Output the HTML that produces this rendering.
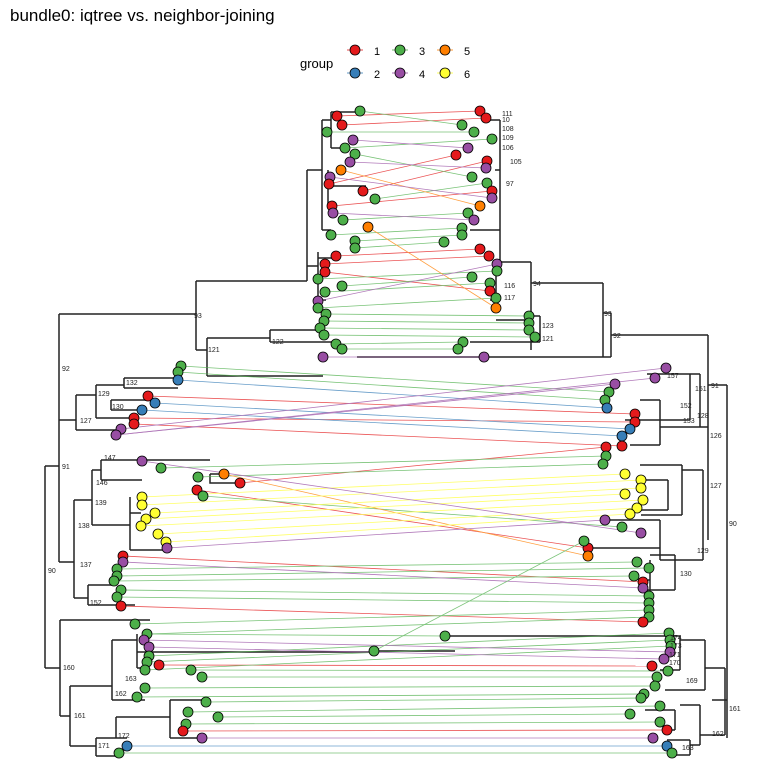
<!DOCTYPE html>
<html><head><meta charset="utf-8"><style>
body{margin:0;background:#fff}
svg{display:block;font-family:"Liberation Sans",sans-serif}
</style></head><body>
<svg id="s" width="768" height="768" viewBox="0 0 768 768" xmlns="http://www.w3.org/2000/svg">
<text x="10" y="21" font-size="17">bundle0: iqtree vs. neighbor-joining</text>
<text x="300" y="68" font-size="13">group</text>
<g font-size="11" stroke-width="0.8">
<line x1="347" y1="50" x2="363" y2="50" stroke="#e41a1c"/><circle cx="355" cy="50" r="5" fill="#e41a1c" stroke="#000"/><text x="374" y="55">1</text>
<line x1="392" y1="50" x2="408" y2="50" stroke="#4daf4a"/><circle cx="400" cy="50" r="5" fill="#4daf4a" stroke="#000"/><text x="419" y="55">3</text>
<line x1="437" y1="50" x2="453" y2="50" stroke="#ff7f00"/><circle cx="445" cy="50" r="5" fill="#ff7f00" stroke="#000"/><text x="464" y="55">5</text>
<line x1="347" y1="73" x2="363" y2="73" stroke="#377eb8"/><circle cx="355" cy="73" r="5" fill="#377eb8" stroke="#000"/><text x="374" y="78">2</text>
<line x1="392" y1="73" x2="408" y2="73" stroke="#984ea3"/><circle cx="400" cy="73" r="5" fill="#984ea3" stroke="#000"/><text x="419" y="78">4</text>
<line x1="437" y1="73" x2="453" y2="73" stroke="#ffff33"/><circle cx="445" cy="73" r="5" fill="#ffff33" stroke="#000"/><text x="464" y="78">6</text>
</g>
<g id="tree" fill="none" stroke="#222" stroke-width="1.5">
<path d="M45,466V668M45,466H59M45,668H60"/>
<path d="M59,314V562M59,314H196M59,562H74M59,420H76"/>
<path d="M196,281V350M196,281H307M196,350H207"/>
<path d="M207,338V376M207,338H270M207,376H323"/>
<path d="M270,330V342M270,330H318M270,342H338"/>
<path d="M307,170V281M307,170H322M307,266H318"/>
<path d="M322,120V230M322,120H331M322,230H331"/>
<path d="M331,112V148M331,112H360M331,148H345"/>
<path d="M328,170V206M328,206H336M328,186H366"/>
<path d="M318,252V310M318,258H337M318,300H326"/>
<path d="M76,395V430M76,395H96M76,430H121"/>
<path d="M96,385V418M96,385H124M96,418H134"/>
<path d="M124,378V388M124,378H181M124,388H178"/>
<path d="M111,400V410M111,400H148M111,410H142"/>
<path d="M74,500V598M74,500H92M74,598H88"/>
<path d="M92,470V525M92,470H101M92,525H130"/>
<path d="M101,460V480M101,460H210M101,480H142M210,474H224M210,474V483H240"/>
<path d="M130,497V550M130,550H167M130,513H141"/>
<path d="M88,585V605M88,585H114M88,605H135"/>
<path d="M60,620V716M60,620H150M60,716H70"/>
<path d="M70,686V746M70,686H112M70,746H96"/>
<path d="M112,640V700M112,640H137M112,700H145"/>
<path d="M137,634V668M137,652H374M137,668H145"/>
<path d="M96,738V756M96,738H116M96,756H119"/>
<path d="M116,717V738M116,717H170M116,738H127"/>
<path d="M170,700V738M170,700H206M170,738H202"/>
<path d="M727,385V738M708,385H727M712,700H727"/>
<path d="M708,335V540M611,335H708M700,427H708"/>
<path d="M611,313V357M603,313H611M357,357H611"/>
<path d="M603,283V357M531,283H603"/>
<path d="M531,262V350M498,262H531M496,320H531"/>
<path d="M500,120V260M487,120H500M495,170H500M470,230H500"/>
<path d="M496,264V310M490,300H496"/>
<path d="M540,316V342M540,316H529M540,342H470"/>
<path d="M700,374V427M690,374H700M660,427H700"/>
<path d="M690,374V420M647,374H690M625,420H690"/>
<path d="M660,400V445M640,400H660M630,445H660"/>
<path d="M703,470V560M682,470H703M660,560H703"/>
<path d="M682,465V515M640,465H682M641,515H682"/>
<path d="M668,480V510M645,480H668M630,510H668"/>
<path d="M660,520V560M610,520H660M588,548H660"/>
<path d="M675,555V590M650,555H675M640,590H675"/>
<path d="M650,560V620M648,580H650"/>
<path d="M725,668V735M705,668H725M700,735H725"/>
<path d="M705,640V690M680,640H705M665,690H705"/>
<path d="M680,636V670M668,636H680M660,670H680"/>
<path d="M700,705V745M680,705H700M690,745H700"/>
<path d="M675,710V730M645,710H675M667,730H675"/>
<path d="M690,740V755M667,740H690M672,755H690"/>
<path d="M373,651H455M445,636H670"/>
</g>
<g id="links" stroke-width="0.8" fill="none" opacity="0.75"></g>
<g id="dots" stroke="#000" stroke-width="0.8"></g>
<g font-size="7" fill="#222">
<text x="194" y="318">93</text><text x="208" y="352">121</text><text x="272" y="344">122</text><text x="62" y="371">92</text><text x="62" y="469">91</text><text x="48" y="573">90</text>
<text x="80" y="423">127</text><text x="98" y="396">129</text><text x="126" y="385">132</text><text x="112" y="409">130</text><text x="80" y="567">137</text><text x="78" y="528">138</text><text x="95" y="505">139</text><text x="96" y="485">146</text><text x="104" y="460">147</text><text x="90" y="605">152</text>
<text x="63" y="670">160</text><text x="74" y="718">161</text><text x="98" y="748">171</text><text x="118" y="738">172</text><text x="115" y="696">162</text><text x="125" y="681">163</text>
<text x="613" y="338">92</text><text x="604" y="316">93</text><text x="533" y="286">94</text><text x="711" y="388">91</text><text x="710" y="438">126</text><text x="710" y="488">127</text><text x="729" y="526">90</text><text x="729" y="711">161</text>
<text x="697" y="418">128</text><text x="697" y="553">129</text><text x="680" y="576">130</text><text x="542" y="328">123</text><text x="542" y="341">121</text><text x="695" y="391">151</text><text x="680" y="408">152</text><text x="683" y="423">153</text><text x="667" y="378">157</text>
<text x="686" y="683">169</text><text x="712" y="736">162</text><text x="669" y="657">171</text><text x="669" y="665">170</text><text x="670" y="640">174</text><text x="670" y="648">173</text><text x="682" y="750">163</text>
<text x="502" y="116">111</text><text x="502" y="122">10</text><text x="502" y="131">108</text><text x="502" y="140">109</text><text x="502" y="150">106</text><text x="510" y="164">105</text><text x="506" y="186">97</text><text x="504" y="288">116</text><text x="504" y="300">117</text>
</g>
</svg>
<script>
var C={R:"#e41a1c",G:"#4daf4a",B:"#377eb8",P:"#984ea3",O:"#ff7f00",Y:"#ffff33"};
var L="360,111,G 337,116,R 342,125,R 327,132,G 353,140,P 345,148,G 355,154,G 350,162,P 341,170,O 330,177,P 329,184,R 363,191,R 375,199,G 332,206,R 333,213,P 343,220,G 368,227,O 331,235,G 355,241,G 355,248,G 336,256,R 325,264,R 325,272,R 318,279,G 342,286,G 325,292,G 318,301,P 318,308,G 326,314,G 324,321,G 320,328,G 324,335,G 336,344,G 342,349,G 323,357,P 181,366,G 178,372,G 178,380,B 148,396,R 155,403,B 142,410,B 134,418,R 134,424,R 121,429,P 116,435,P 142,461,P 161,468,G 224,474,O 198,477,G 240,483,R 197,490,R 203,496,G 142,497,Y 142,505,Y 155,513,Y 146,519,Y 141,526,Y 158,534,Y 166,542,Y 167,548,P 123,556,R 123,562,P 117,569,G 117,576,G 114,581,G 121,590,G 117,597,G 121,606,R 135,624,G 147,634,G 144,640,P 149,647,P 149,656,G 147,662,G 145,670,G 159,665,R 191,670,G 202,677,G 145,688,G 137,697,G 206,702,G 188,712,G 218,717,G 186,724,G 183,731,R 202,738,P 127,746,B 119,753,G";
var R="480,111,R 486,118,R 462,125,G 474,132,G 492,139,G 468,148,P 456,155,R 487,161,R 486,168,P 472,177,G 487,183,G 492,191,R 492,198,P 480,206,O 468,213,G 474,220,P 462,228,G 462,235,G 444,242,G 480,249,R 489,256,R 497,264,P 497,271,G 472,277,G 490,283,G 490,291,R 496,298,G 496,308,O 529,316,G 529,323,G 529,330,G 535,337,G 463,342,G 458,349,G 484,357,P 666,368,P 655,378,P 615,384,P 609,392,G 605,400,G 607,408,B 635,414,R 635,422,R 630,429,B 622,436,B 622,446,R 606,447,R 606,456,G 603,464,G 625,474,Y 641,480,Y 641,488,Y 625,494,Y 643,500,Y 637,508,Y 630,514,Y 605,520,P 622,527,G 641,533,P 588,548,R 588,556,O 637,562,G 649,568,G 634,576,G 643,582,R 643,588,P 649,596,G 649,603,G 649,610,G 649,617,G 643,622,R 669,633,G 670,640,G 671,646,G 670,652,P 664,659,P 652,666,R 668,671,G 657,677,G 655,686,G 644,694,G 641,698,G 660,706,G 630,714,G 660,722,G 667,730,R 653,738,P 667,746,B 672,753,G";
function parse(s){return s.split(" ").map(function(t){var a=t.split(",");return{x:+a[0],y:+a[1],c:a[2]}})}
var l=parse(L),r=parse(R),ns="http://www.w3.org/2000/svg";
var links=document.getElementById("links"),dots=document.getElementById("dots");
function ln(a,b,c){var e=document.createElementNS(ns,"line");e.setAttribute("x1",a.x);e.setAttribute("y1",a.y);e.setAttribute("x2",b.x);e.setAttribute("y2",b.y);e.setAttribute("stroke",C[c]);links.appendChild(e);}
Object.keys(C).forEach(function(c){
 if(c=="P")return;
 var a=l.filter(function(p){return p.c==c}),b=r.filter(function(p){return p.c==c});
 var n=Math.min(a.length,b.length);
 for(var i=0;i<n;i++){ln(a[i],b[i],c);}
});
var PP=[[353,140,468,148],[350,162,486,168],[330,177,492,198],[333,213,474,220],[318,301,497,264],[323,357,484,357],[121,429,666,368],[116,435,655,378],[116,435,615,384],[142,461,641,533],[167,548,605,520],[123,562,643,588],[144,640,670,652],[149,647,664,659],[202,738,653,738]];
PP.forEach(function(q){ln({x:q[0],y:q[1]},{x:q[2],y:q[3]},"P")});
ln({x:374,y:651},{x:584,y:541},"G");
ln({x:445,y:636},{x:147,y:634},"G");
var extra=[{x:374,y:651,c:"G"},{x:584,y:541,c:"G"},{x:445,y:636,c:"G"}];
l.concat(r,extra).forEach(function(p){var c=document.createElementNS(ns,"circle");c.setAttribute("cx",p.x);c.setAttribute("cy",p.y);c.setAttribute("r",5);c.setAttribute("fill",C[p.c]);dots.appendChild(c);});
</script>
</body></html>
